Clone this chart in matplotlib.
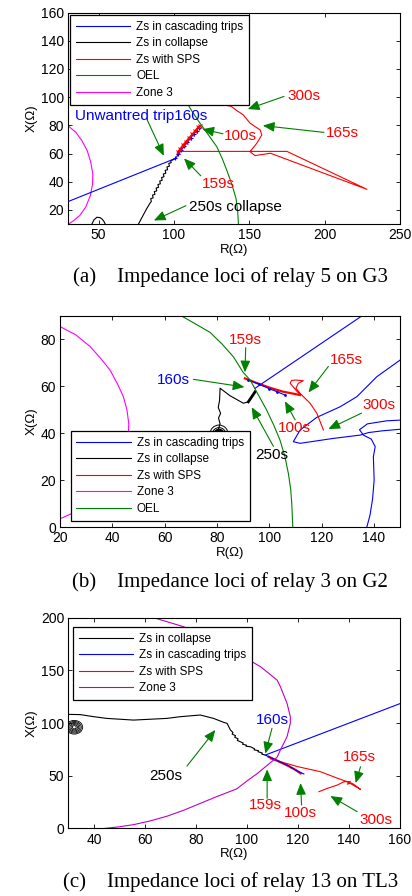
import numpy as np
import matplotlib
matplotlib.use('Agg')
import matplotlib.pyplot as plt
from matplotlib.patches import Ellipse

plt.rcParams['font.family'] = ['Liberation Sans', 'DejaVu Sans']

# ---------------- (a) relay 5 on G3 ----------------
a_blue_r = [30, 101, 103, 105, 107, 109, 111, 113, 115, 116.7]
a_blue_x = [26, 56.5, 59.5, 62.5, 65.3, 68, 71, 73.5, 76.3, 78.4]
a_black_r = [76.5, 78, 80, 82, 84, 85, 84.6, 86.2, 85.8, 87.4, 87.0, 88.6, 88.2, 89.8, 89.4, 91, 90.6,
             92.2, 91.8, 93.4, 93.0, 94.6, 94.2, 95.8, 95.4, 97, 96.6, 98.2, 97.8, 99.4, 101]
a_black_x = [10, 13, 17, 21, 24.5, 26, 28, 28.5, 30.5, 31, 33, 33.5, 35.5, 36, 38, 38.5, 40.5,
             41, 43, 43.5, 45.5, 46, 48, 48.5, 50.5, 51, 53, 53.5, 55, 55.5, 56.5]
a_arc_r = [45.6, 47, 48.9, 51, 52.2, 53.5, 54.4]
a_arc_x = [10, 13, 14.8, 14.5, 13.6, 12, 10]
a_red_diag_r = [102.5, 104, 106, 108, 110, 112, 114, 116, 117]
a_red_diag_x = [61, 63, 66, 68.5, 71, 73.5, 76, 78.5, 79.5]
a_red_r = [103, 175, 228, 164, 153.8, 150.5, 155, 158.3, 157.2, 154, 150.5, 146, 141, 138, 135.5]
a_red_x = [61.5, 61.5, 34.6, 60.2, 58.5, 61.3, 67.3, 73.2, 76.7, 79, 81.5, 87.4, 91, 93.5, 94]
a_oel_r = [95, 102, 107.4, 112, 117.3, 123, 128.4, 132, 135, 138.5, 141.2, 142.3, 142.8]
a_oel_x = [125, 110, 98, 90, 81.5, 73, 64.9, 56.5, 48.3, 38, 28, 19, 10]
a_zone_r = [30, 35, 39, 42.5, 44.8, 46.2, 46, 44.5, 41.5, 37.5, 33, 30]
a_zone_x = [79.5, 75, 69, 62, 54, 45.5, 38, 30, 22, 16, 12, 10]

# ---------------- (b) relay 3 on G2 ----------------
b_blue1_r = [94.6, 136]
b_blue1_x = [59.2, 90.5]
b_blue2_r = [150, 141.1, 133.5, 127.1, 118.2, 111.8, 109.2, 111.8, 124.5, 134.7, 138, 143, 150]
b_blue2_x = [71.2, 64.1, 55.6, 51.3, 46.8, 41.4, 36.4, 35.7, 37.8, 39.2, 40.3, 41, 41.7]
b_blue3_r = [150, 144.9, 137.5, 134.5, 136, 139, 140.5, 139.8, 140.1, 139.5, 138.5, 137.3]
b_blue3_x = [45.6, 45.3, 44, 41.5, 39.2, 37.5, 34.3, 30, 20, 12, 5, 0]
b_blue4_r = [92, 96, 100, 103, 106]
b_blue4_x = [62.7, 61, 59, 57.7, 56.3]
b_black_r = [80.5, 81.2, 80.6, 81.4, 80.5, 81.0, 81.2, 85, 90.1, 92, 94.6]
b_black_x = [41.5, 44, 46.5, 48.5, 51, 54, 59.2, 56, 52.8, 53.4, 57.7]
b_red_diag_r = [90.7, 95, 100, 105, 111.8]
b_red_diag_x = [63.4, 61.5, 59.5, 57.8, 56.3]
b_red_r = [111.8, 108, 108.5, 109.9, 113, 111.1, 110.2, 111.8, 115.6, 118.2, 120.7]
b_red_x = [56.3, 61.3, 62.5, 62.7, 62.4, 61.3, 59.2, 57, 52.8, 48.5, 41.4]
b_zone_r = [20, 26, 31.5, 35.5, 39.1, 42, 44.2, 45.6, 46.3, 46, 44.5, 41.5, 37, 30, 24, 20]
b_zone_x = [85.5, 82, 77, 72, 67, 61, 55.7, 50, 44, 36, 28, 20, 13, 7.5, 5.5, 3.5]
b_oel_r = [66.5, 72, 77.4, 82, 86.3, 90, 92.7, 96, 99, 101.7, 104.1, 106, 107.3, 108.2, 108.6, 109]
b_oel_x = [90, 86.5, 83, 78, 72.6, 66, 62.7, 56, 49.9, 43.5, 37.1, 30, 22.9, 16, 10.1, 0]

# ---------------- (c) relay 13 on TL3 ----------------
c_black_r = [30, 34.6, 40, 45, 55.5, 68.6, 73.8, 81.7, 86.9, 90.9, 92.2, 93.5, 94.5, 94.2, 95.5, 95.2,
             96.5, 96.2, 97.4, 98.5, 98.3, 99.8, 99.6, 101.3, 103, 102.8, 104.5, 104.3, 106, 105.8, 107.2, 108.5]
c_black_x = [108.2, 108, 106, 104.4, 102.8, 104.4, 106, 107.6, 104.4, 100.6, 99.7, 93.4, 91, 89.5, 88, 86.5,
             85, 83.5, 82.2, 81, 79.8, 79, 78, 77.5, 75.5, 74.5, 73.8, 72.8, 71.5, 70.5, 69.6, 68]
c_blue1_r = [107.2, 160.5]
c_blue1_x = [69.6, 118.9]
c_blue2_r = [108.5, 112, 116, 119, 122.3]
c_blue2_x = [68, 64.3, 59.8, 55.5, 51.6]
c_red_diag_r = [108.5, 112, 116, 119, 121]
c_red_diag_x = [68, 64, 59.5, 55.5, 52.2]
c_red_r = [109.2, 113.1, 120, 128.8, 135, 139.3, 144.5, 142, 141, 139.3, 140.6, 138, 136.7, 135.4, 131.5, 128.2]
c_red_x = [66, 63.3, 58.5, 53.8, 48, 44.3, 37, 41.5, 43, 42, 44.3, 44.3, 42.7, 41.1, 38, 34.8]
c_zone_r = [62.1, 75.2, 90, 105.3, 111.8, 113.1, 115.7, 117, 117, 115.7, 113.1, 111.8, 109.5, 107,
            104, 100, 96, 88, 81.7, 75, 68.6, 62, 55.5, 50, 44.4]
c_zone_x = [201, 191.4, 175, 153.5, 140.8, 134.5, 118.7, 106, 99.7, 87, 74.4, 67.5, 63, 58,
            52, 45, 37.5, 30, 23.7, 17, 11.5, 7, 3.5, 1.5, 0]

# concentric rings (widths, heights)
b_ring_w = [2, 3, 4, 5.2, 7]
b_ring_h = [2.3, 3.4, 4.5, 5.8, 8]
c_ring_w = [1.5, 2.5, 3.5, 4.5, 5.5, 6.6]
c_ring_h = [3, 5, 7, 9, 11, 13]

BLUE = '#0000ff'
RED = '#ff0000'
GREEN = '#008000'
MAG = '#ff00ff'
MAG_C = '#c000c0'

fig = plt.figure(figsize=(4.12, 8.96), dpi=100)


def style_axes(ax, xlim, ylim, xt, yt):
    ax.set_xlim(*xlim)
    ax.set_ylim(*ylim)
    ax.set_xticks(xt)
    ax.set_yticks(yt)
    ax.tick_params(direction='in', top=True, right=True, length=3, width=0.6, labelsize=10, pad=3)
    for s in ax.spines.values():
        s.set_linewidth(0.8)
    ax.set_xlabel('R(\u03a9)', fontsize=9.5, labelpad=1)
    ax.set_ylabel('X(\u03a9)', fontsize=9.5, labelpad=2)


def arrow(ax, tail, head):
    ax.annotate('', xy=head, xytext=tail,
                arrowprops=dict(arrowstyle='-|>,head_length=0.7,head_width=0.3',
                                color=GREEN, lw=0.8, shrinkA=0, shrinkB=0, mutation_scale=10))


def legend(ax, **kw):
    leg = ax.legend(fontsize=8.5, handlelength=4.6, handletextpad=0.5, labelspacing=0.38,
                    borderpad=0.5, borderaxespad=0, fancybox=False, framealpha=1, **kw)
    leg.get_frame().set_edgecolor('black')
    leg.get_frame().set_linewidth(0.9)
    return leg


# ---------- (a) ----------
ax = fig.add_axes([0.166, 0.75, 0.805, 0.236])
ax.plot(a_black_r, a_black_x, color='black', lw=0.8, label='Zs in collapse', zorder=3)
ax.plot(a_arc_r, a_arc_x, color='black', lw=0.8)
ax.plot(a_blue_r, a_blue_x, color=BLUE, lw=0.8, label='Zs in cascading trips', zorder=3)
ax.plot(a_blue_r[1:], a_blue_x[1:], color=BLUE, ls='none', marker='+', ms=3, mew=0.8, zorder=3)
ax.plot(a_red_r, a_red_x, color=RED, lw=0.8, label='Zs with SPS')
ax.plot(a_red_diag_r, a_red_diag_x, color=RED, lw=1.2, marker='x', ms=2.5, mew=0.8, zorder=4)
ax.plot(a_oel_r, a_oel_x, color=GREEN, lw=0.8, label='OEL')
ax.plot(a_zone_r, a_zone_x, color=MAG, lw=0.8, label='Zone 3')
style_axes(ax, (30, 250), (10, 160), [50, 100, 150, 200, 250], [20, 40, 60, 80, 100, 120, 140, 160])
h, l = ax.get_legend_handles_labels()
order = [1, 0, 2, 3, 4]
legend(ax, handles=[h[i] for i in order], labels=[l[i] for i in order],
       loc='upper left', bbox_to_anchor=(0.005, 0.989))
ax.text(34.4, 86.6, 'Unwantred trip160s', color=BLUE, fontsize=11, va='center')
ax.text(133.3, 72.5, '100s', color=RED, fontsize=11, va='center')
ax.text(129.3, 38.4, '159s', color=RED, fontsize=11, va='center', ha='center')
ax.text(186, 100.7, '300s', color=RED, fontsize=11, va='center', ha='center')
ax.text(211.6, 74.8, '165s', color=RED, fontsize=11, va='center', ha='center')
ax.text(140.9, 22, '250s collapse', color='black', fontsize=11, va='center', ha='center')
arrow(ax, (82.2, 84), (93.3, 58.4))
arrow(ax, (132.5, 74), (118.9, 77.3))
arrow(ax, (117.8, 44.2), (106.7, 56.5))
arrow(ax, (173, 100.5), (149, 91.5))
arrow(ax, (199.5, 75), (159, 79.8))
arrow(ax, (108, 23), (86.7, 12.5))

# ---------- (b) ----------
ax = fig.add_axes([0.1456, 0.4118, 0.8254, 0.2355])
ax.plot(b_blue1_r, b_blue1_x, color=BLUE, lw=0.8, label='Zs in cascading trips')
ax.plot(b_blue2_r, b_blue2_x, color=BLUE, lw=0.8)
ax.plot(b_blue3_r, b_blue3_x, color=BLUE, lw=0.8)
ax.plot(b_black_r, b_black_x, color='black', lw=0.8, label='Zs in collapse')
ax.plot(b_black_r[-2:], b_black_x[-2:], color='black', lw=2)
for w, hh in zip(b_ring_w, b_ring_h):
    ax.add_patch(Ellipse((80.8, 39.5), w, hh, fill=False, ec='black', lw=0.7))
ax.add_patch(Ellipse((80.8, 39.2), 4.2, 4.6, fc='black', ec='black', lw=0.7))
ax.plot(b_red_r, b_red_x, color=RED, lw=0.8, label='Zs with SPS')
ax.plot(b_red_diag_r, b_red_diag_x, color=RED, lw=1.6)
ax.plot(b_blue4_r, b_blue4_x, color=BLUE, lw=0.8, marker='.', ms=2)
ax.plot(b_zone_r, b_zone_x, color=MAG, lw=0.8, label='Zone 3')
ax.plot(b_oel_r, b_oel_x, color=GREEN, lw=0.8, label='OEL')
style_axes(ax, (20, 150), (0, 90), [20, 40, 60, 80, 100, 120, 140], [0, 20, 40, 60, 80])
legend(ax, loc='lower left', bbox_to_anchor=(0.031, 0.03))
ax.text(91, 79.8, '159s', color=RED, fontsize=11, va='center', ha='center')
ax.text(63.3, 62.8, '160s', color=BLUE, fontsize=11, va='center', ha='center')
ax.text(129.6, 71.3, '165s', color=RED, fontsize=11, va='center', ha='center')
ax.text(142, 52, '300s', color=RED, fontsize=11, va='center', ha='center')
ax.text(109.6, 42.2, '100s', color=RED, fontsize=11, va='center', ha='center')
ax.text(101, 30.8, '250s', color='black', fontsize=11, va='center', ha='center')
arrow(ax, (91, 76.5), (90.7, 66))
arrow(ax, (71, 63), (90.5, 59.7))
arrow(ax, (122.6, 68.5), (115, 57.4))
arrow(ax, (135.3, 48.6), (122.6, 41.8))
arrow(ax, (109.9, 45.7), (106, 53.6))
arrow(ax, (101.6, 34.4), (93.3, 51.1))

# ---------- (c) ----------
ax = fig.add_axes([0.166, 0.0755, 0.805, 0.2351])
ax.plot(c_black_r, c_black_x, color='black', lw=0.8, label='Zs in collapse')
for w, hh in zip(c_ring_w, c_ring_h):
    ax.add_patch(Ellipse((32.3, 96), w, hh, fill=False, ec='black', lw=0.6))
ax.plot(c_blue1_r, c_blue1_x, color=BLUE, lw=0.8, label='Zs in cascading trips')
ax.plot(c_red_r, c_red_x, color=RED, lw=0.8, label='Zs with SPS')
ax.plot(c_red_diag_r, c_red_diag_x, color=RED, lw=1.6)
ax.plot(c_blue2_r, c_blue2_x, color=BLUE, lw=0.8)
ax.plot(c_zone_r, c_zone_x, color=MAG_C, lw=0.8, label='Zone 3')
style_axes(ax, (30, 160), (0, 200), [40, 60, 80, 100, 120, 140, 160], [0, 50, 100, 150, 200])
legend(ax, loc='upper left', bbox_to_anchor=(0.013, 0.957))
ax.text(109.8, 102.8, '160s', color=BLUE, fontsize=11, va='center', ha='center')
ax.text(68.2, 49.7, '250s', color='black', fontsize=11, va='center', ha='center')
ax.text(107.2, 22.2, '159s', color=RED, fontsize=11, va='center', ha='center')
ax.text(121, 14.2, '100s', color=RED, fontsize=11, va='center', ha='center')
ax.text(143.9, 68, '165s', color=RED, fontsize=11, va='center', ha='center')
ax.text(150.4, 7.9, '300s', color=RED, fontsize=11, va='center', ha='center')
arrow(ax, (109.8, 95), (107.2, 71))
arrow(ax, (76.5, 59.2), (87.6, 93.4))
arrow(ax, (107.9, 28.5), (107.9, 56))
arrow(ax, (121.4, 22.2), (121, 43))
arrow(ax, (144.5, 58.5), (142.6, 43))
arrow(ax, (143.2, 15.8), (132.7, 30.7))

# captions
cap = dict(fontsize=15, family=['Liberation Serif', 'DejaVu Serif'], va='center')
fig.text(73 / 412, 1 - 277 / 896, '(a)    Impedance loci of relay 5 on G3', **cap)
fig.text(71.7 / 412, 1 - 582 / 896, '(b)    Impedance loci of relay 3 on G2', **cap)
fig.text(63.3 / 412, 1 - 882 / 896, '(c)    Impedance loci of relay 13 on TL3', **cap)

fig.savefig('out.png', dpi=100)
